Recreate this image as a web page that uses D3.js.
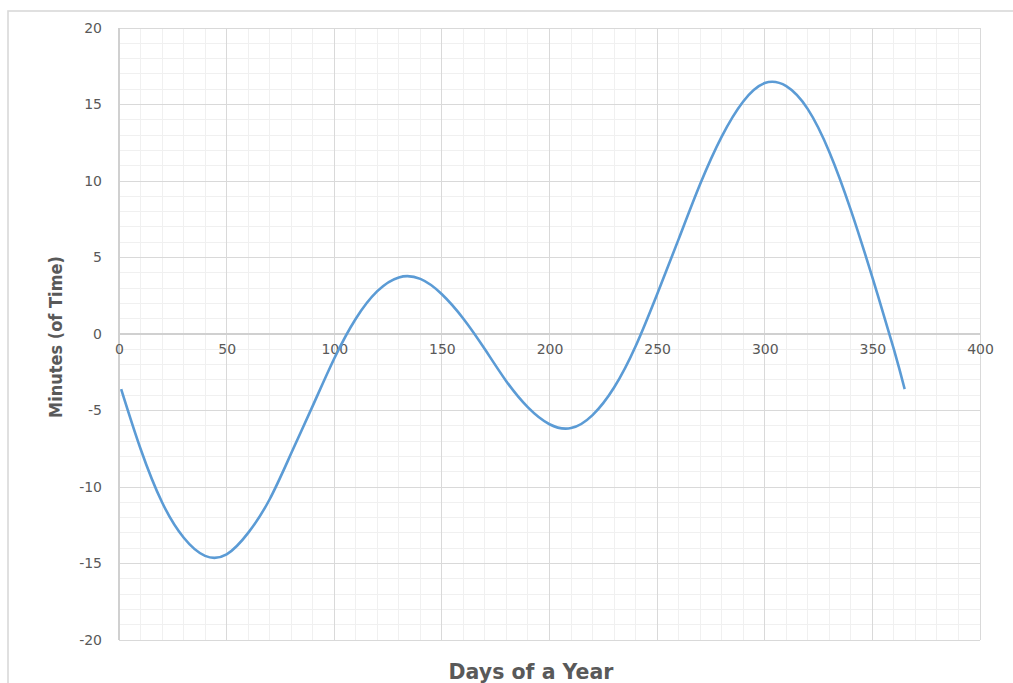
<!DOCTYPE html>
<html>
<head>
<meta charset="utf-8">
<script src="https://cdn.jsdelivr.net/npm/d3@7"></script>
<style>
  html, body { margin: 0; padding: 0; background: #ffffff; }
  svg { display: block; }
</style>
</head>
<body>
<svg id="chart" width="1013" height="683"></svg>
<script>
// Equation of time over the year (minutes), sampled by day number
const days    = [1, 10, 20, 30, 40, 50, 60, 70, 80, 90, 100, 110, 120, 130, 140, 150, 160, 170, 180, 190, 200, 210, 220, 230, 240, 250, 260, 270, 280, 290, 300, 310, 320, 330, 340, 350, 360, 365];
const minutes = [-3.6, -7.5, -11.0, -13.3, -14.5, -14.4, -13.0, -10.8, -7.8, -4.7, -1.6, 1.0, 2.8, 3.7, 3.6, 2.6, 1.0, -1.0, -3.1, -4.8, -5.9, -6.15, -5.3, -3.5, -0.8, 2.6, 6.2, 9.8, 12.9, 15.2, 16.4, 16.2, 14.7, 11.9, 8.1, 3.7, -1.0, -3.6];

const xTicks = [0, 50, 100, 150, 200, 250, 300, 350, 400];
const yTicks = [-20, -15, -10, -5, 0, 5, 10, 15, 20];
const xMinorStep = 10;
const yMinorStep = 1;

const xTitle = "Days of a Year";
const yTitle = "Minutes (of Time)";

const svg = d3.select("#chart");

// outer chart frame
svg.append("rect")
  .attr("x", 8).attr("y", 11)
  .attr("width", 1010).attr("height", 700)
  .attr("fill", "none")
  .attr("stroke", "#d9d9d9")
  .attr("stroke-width", 1.6);

const x = d3.scaleLinear().domain([0, 400]).range([119, 980]);
const y = d3.scaleLinear().domain([-20, 20]).range([640, 28]);

// minor gridlines
const xMinor = d3.range(0, 400 + 1e-9, xMinorStep);
const yMinor = d3.range(-20, 20 + 1e-9, yMinorStep);
const grid = svg.append("g").attr("shape-rendering", "crispEdges");
grid.selectAll("line.xm").data(xMinor).join("line")
  .attr("class", "xm")
  .attr("x1", d => x(d)).attr("x2", d => x(d))
  .attr("y1", y(-20)).attr("y2", y(20))
  .attr("stroke", "#f0f0f0").attr("stroke-width", 1);
grid.selectAll("line.ym").data(yMinor).join("line")
  .attr("class", "ym")
  .attr("x1", x(0)).attr("x2", x(400))
  .attr("y1", d => y(d)).attr("y2", d => y(d))
  .attr("stroke", "#f0f0f0").attr("stroke-width", 1);

// major gridlines
grid.selectAll("line.xM").data(xTicks).join("line")
  .attr("class", "xM")
  .attr("x1", d => x(d)).attr("x2", d => x(d))
  .attr("y1", y(-20)).attr("y2", y(20))
  .attr("stroke", "#d9d9d9").attr("stroke-width", 1);
grid.selectAll("line.yM").data(yTicks).join("line")
  .attr("class", "yM")
  .attr("x1", x(0)).attr("x2", x(400))
  .attr("y1", d => y(d)).attr("y2", d => y(d))
  .attr("stroke", "#d9d9d9").attr("stroke-width", 1);

// axis lines (crossing at zero)
grid.append("line")
  .attr("x1", x(0)).attr("x2", x(400))
  .attr("y1", y(0)).attr("y2", y(0))
  .attr("stroke", "#d0d0d0").attr("stroke-width", 1.2);
grid.append("line")
  .attr("x1", x(0)).attr("x2", x(0))
  .attr("y1", y(-20)).attr("y2", y(20))
  .attr("stroke", "#d0d0d0").attr("stroke-width", 1.2);

const labelFont = "DejaVu Sans, Verdana, sans-serif";
const plainNumber = d => String(d);

// x axis labels, placed just under the zero line
const xAxis = d3.axisBottom(x).tickValues(xTicks).tickFormat(plainNumber).tickSize(0).tickPadding(10);
const gx = svg.append("g").attr("transform", `translate(0,${y(0)})`).call(xAxis);
gx.select(".domain").remove();
gx.selectAll("text")
  .attr("fill", "#595959")
  .attr("font-family", labelFont)
  .attr("font-size", 14);

// y axis labels
const yAxis = d3.axisLeft(y).tickValues(yTicks).tickFormat(plainNumber).tickSize(0).tickPadding(17);
const gy = svg.append("g").attr("transform", `translate(${x(0)},0)`).call(yAxis);
gy.select(".domain").remove();
gy.selectAll("text")
  .attr("fill", "#595959")
  .attr("font-family", labelFont)
  .attr("font-size", 14);

// curve
const pts = days.map((d, i) => [d, minutes[i]]);
const line = d3.line()
  .x(d => x(d[0]))
  .y(d => y(d[1]))
  .curve(d3.curveNatural);
svg.append("path")
  .datum(pts)
  .attr("d", line)
  .attr("fill", "none")
  .attr("stroke", "#5b9bd5")
  .attr("stroke-width", 2.6)
  .attr("stroke-linejoin", "round")
  .attr("stroke-linecap", "butt");

// axis titles
svg.append("text")
  .attr("x", 531).attr("y", 679)
  .attr("text-anchor", "middle")
  .attr("fill", "#595959")
  .attr("font-family", labelFont)
  .attr("font-weight", "bold")
  .attr("font-size", 20.5)
  .text(xTitle);

svg.append("text")
  .attr("transform", "translate(62,337) rotate(-90)")
  .attr("text-anchor", "middle")
  .attr("fill", "#595959")
  .attr("font-family", "DejaVu Sans Condensed, DejaVu Sans, sans-serif")
  .attr("font-stretch", "condensed")
  .attr("font-weight", "bold")
  .attr("font-size", 18)
  .text(yTitle);
</script>
</body>
</html>
